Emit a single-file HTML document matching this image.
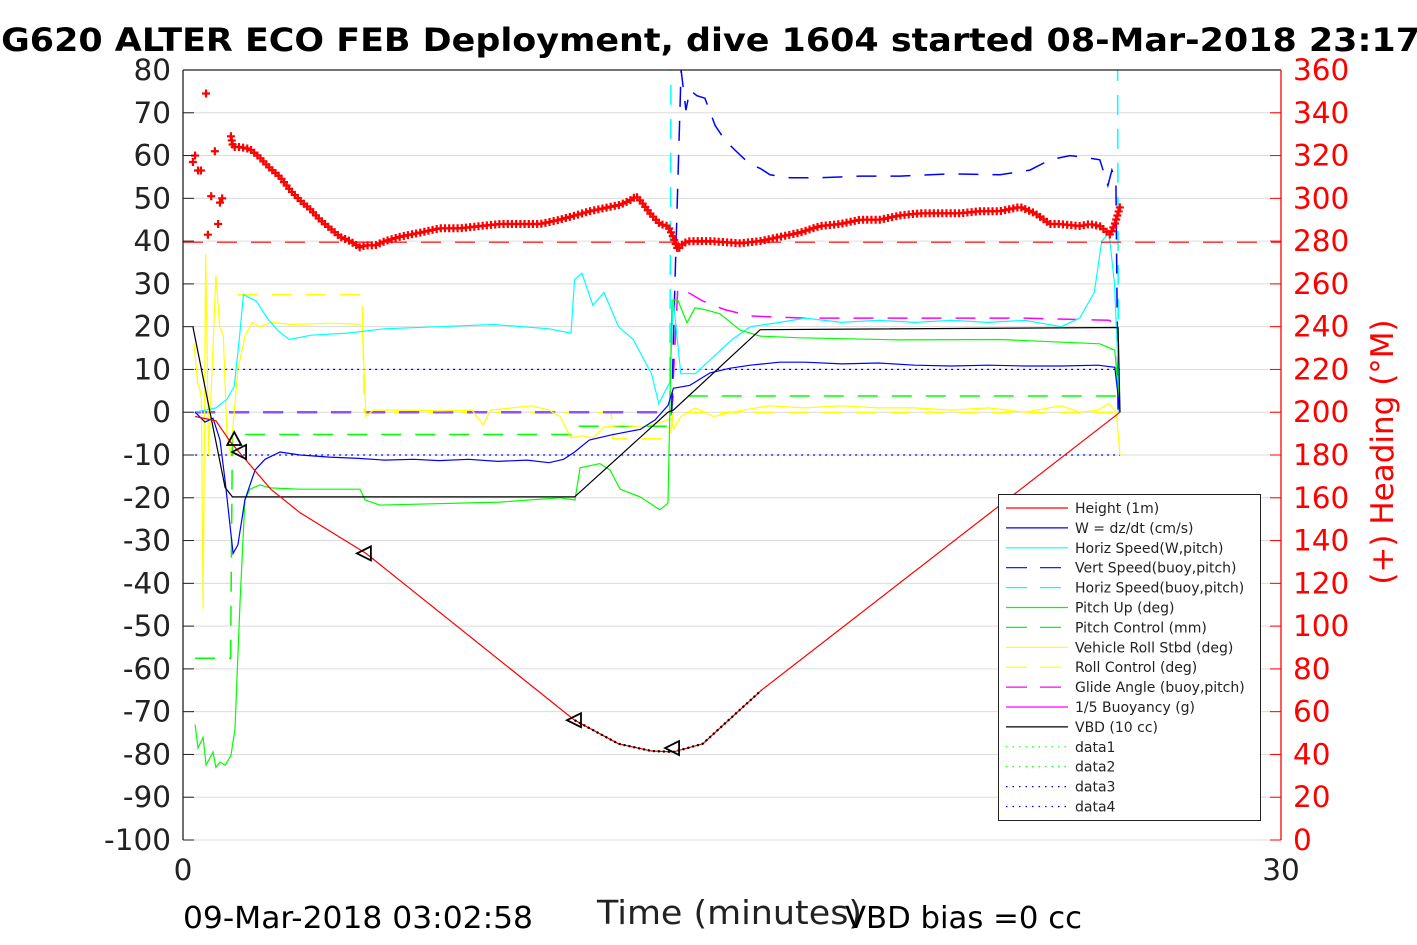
<!DOCTYPE html>
<html><head><meta charset="utf-8"><style>
html,body{margin:0;padding:0;background:#fff;}
svg{display:block;font-family:"DejaVu Sans","Liberation Sans",sans-serif;}
</style></head><body>
<svg id="chart" width="1417" height="945" viewBox="0 0 1417 945" xmlns="http://www.w3.org/2000/svg">
<text x="-24" y="51" font-size="32" font-weight="bold" fill="#000" textLength="1444" lengthAdjust="spacingAndGlyphs">SG620 ALTER ECO FEB Deployment, dive 1604 started 08-Mar-2018 23:17</text>
<g id="grid"></g>
<g id="series"></g>
<g id="axes"></g>
<text x="597" y="924" font-size="33" fill="#222" textLength="265" lengthAdjust="spacingAndGlyphs">Time (minutes)</text>
<text x="183" y="928" font-size="30" fill="#000" textLength="350" lengthAdjust="spacingAndGlyphs">09-Mar-2018 03:02:58</text>
<text x="845" y="928" font-size="30" fill="#000" textLength="237" lengthAdjust="spacingAndGlyphs">VBD bias =0 cc</text>
<text transform="translate(1393,452) rotate(-90)" font-size="31" text-anchor="middle" fill="#f00">(+) Heading (°M)</text>
<g id="legend"></g>
</svg>
<script>
// ---- data ----
const leftTicks = [80,70,60,50,40,30,20,10,0,-10,-20,-30,-40,-50,-60,-70,-80,-90,-100];
const rightTicks = [360,340,320,300,280,260,240,220,200,180,160,140,120,100,80,60,40,20,0];
const xTicks = [0,30];

const headT = [0.27,0.33,0.41,0.49,0.63,0.68,0.77,0.87,0.96,1.01,1.07,1.31,1.37,1.56,1.83,2.10,2.38,2.65,2.92,3.20,3.47,3.74,4.02,4.29,4.56,4.84,4.97,5.25,5.52,5.93,6.48,7.02,7.57,8.11,8.66,9.21,9.75,10.30,10.71,11.12,11.67,11.94,12.21,12.38,12.54,12.76,13.03,13.25,13.39,13.52,13.66,13.85,14.40,15.22,15.77,16.31,16.86,17.40,17.95,18.50,19.04,19.59,20.14,20.68,21.23,21.78,22.32,22.87,23.28,23.69,23.96,24.51,24.78,25.05,25.19,25.33,25.46,25.60];
const headV = [317,320,313,313,349,283,301,322,288,298,300,329,324,324,323,319,314,310,304,299,295,290,286,282,280,277,278,278,280,282,284,286,286,287,288,288,288,290,292,294,296,297,299,301,298,293,288,287,282,276,279,280,280,279,280,282,284,287,288,290,290,292,293,293,293,294,294,296,293,288,288,287,288,287,285,283,288,296];
const headRef = 279.5;

const hgtT = [0.33,0.9,1.3,1.6,2.4,3.2,5.0,10.7,11.9,12.8,13.4,14.2,15.8,25.6];
const hgtV = [-1,-2,-7,-10,-18,-23.5,-33,-72,-77.5,-79.2,-79.4,-77.5,-65,0];

const wT = [0.33,0.6,0.82,1.01,1.15,1.37,1.5,1.69,1.97,2.24,2.65,3.2,4,4.8,5.5,6.3,7,7.8,8.6,9.4,10.0,10.4,10.7,11.1,11.7,12.5,12.9,13.25,13.4,13.85,14.4,14.95,15.5,16.3,17,18,19,20,21,22,23,24,25,25.46,25.6];
const wV = [0,-2.3,-1.4,-6.5,-16,-33,-31,-20.5,-13.5,-11,-9.3,-10,-10.5,-10.8,-11.2,-11,-11.3,-11,-11.5,-11.2,-11.8,-11,-9.3,-6.5,-5.3,-4,-1.8,1.6,5.6,6.3,9.2,10.3,11,11.7,11.7,11.3,11.5,11,10.8,11,10.8,10.8,11,10.5,0];

const hsT = [0.33,0.9,1.2,1.4,1.55,1.65,2.0,2.3,2.6,2.9,3.5,4.5,5.5,7,8.5,10,10.6,10.7,10.9,11.2,11.5,11.9,12.3,12.8,13.0,13.3,13.4,13.6,14,14.5,15,15.5,16.3,17,18,19,20,21,22,23,24,24.5,24.9,25.1,25.3,25.45,25.6];
const hsV = [0,1,3,6,18,27.5,26,22,19,17,18,18.5,19.5,20,20.5,19.5,18.5,31,32.5,25,28,20,17,9,2,7,26,9,9,13,17,20,21,22,21,21.5,21,21.5,21,21.5,20,22,28,40,42,30,0];

const vsbT = [0.33,13.35,13.44,13.61,13.74,13.85,14.04,14.26,14.54,14.81,15.08,15.36,15.55,15.77,16.04,16.58,17.4,18.5,19.59,20.96,22.32,23.14,23.69,24.23,24.64,25.05,25.27,25.38,25.49,25.55];
const vsbV = [0,0,30,80,70.6,75.3,74,73.4,67,63.6,61.3,59,57.8,57,55.5,54.8,54.8,55.2,55.2,55.7,55.5,56.6,59,60,59.6,59,53,56.6,54,0];

const hsbT = [0.33,13.3,13.38,25.5,25.56];
const hsbV = [0,0,200,200,0];

const pitchT = [0.33,0.41,0.55,0.63,0.82,0.9,1.01,1.15,1.31,1.42,1.56,1.69,1.83,2.1,2.38,3.2,4.84,4.97,5.38,8.66,10.3,10.71,10.85,11.39,11.67,11.94,12.49,13.03,13.25,13.36,13.52,13.77,13.99,14.26,14.67,15.22,15.77,16.86,19.59,22.32,25.05,25.46,25.6];
const pitchV = [-73,-78.5,-76,-82.5,-79.4,-83,-81.8,-82.5,-80.3,-74,-44,-20.5,-18,-17,-17.7,-18,-18,-20.5,-21.7,-21,-20,-20.5,-13,-12,-13.5,-18,-19.8,-22.8,-21.2,26.2,26.2,20.9,24.4,24,23,19.2,17.8,17.4,16.9,17,16,14.5,0];

const pctlT = [0.33,1.3,1.35,10.7,10.75,13.3,13.4,25.6];
const pctlV = [-57.5,-57.5,-5.2,-5.2,-3.3,-3.3,3.8,3.8];

const rollT = [0.3,0.4,0.5,0.55,0.62,0.7,0.9,1.0,1.1,1.2,1.3,1.4,1.5,1.7,1.9,2.1,2.4,3,4,4.8,4.9,5.0,5.2,6,7,7.9,8.2,8.4,9,9.5,10,10.3,10.6,10.9,11.2,11.5,12,12.5,13,13.35,13.4,13.6,14,14.5,15,16,17,18,19,20,21,22,23,24,24.5,25,25.3,25.5,25.6];
const rollV = [16,7,4,-46,37,-10,32,20,18,-5,-10,0,10,18,21,20,21,20.5,20.8,20.6,20,-1,0.5,0.5,0.3,0.5,-3,0.5,1,1.5,0.5,-1,-6,-5.5,-6,-3.5,-3,-3.5,-2.5,-1.5,-4,-1,1,-1,0,1.5,1,1.5,1,1,0.5,1,0,1.5,0,0.5,2,0,-10];

const rctlT = [1.5,4.9,4.95,11.7,11.75,13.3,13.4,25.6];
const rctlV = [27.5,27.5,0,0,-6.2,-6.2,0,0];

const glideT = [0.33,13.35,13.52,13.8,14.2,14.8,15.5,17,20,23,25.3,25.6];
const glideV = [0,0,29,28,26,24,22.5,22,22,22,21.5,20];

const vbdT = [0.27,1.15,1.35,10.7,13.25,13.4,15.77,25.55,25.6];
const vbdV = [20,-17.6,-19.8,-19.8,0,0.5,19.3,19.8,0];

const dataLevelsT = [0.33,25.6];
const data3V = [10,10];
const data4V = [-10,-10];

const triT = [1.4,1.56,4.97,10.71,13.39];
const triV = [-6.5,-9.3,-33,-72,-78.5];

// ---- scales ----
const PX0=183, PX1=1281, PY0=70, PY1=840;
const X = t => PX0 + (t-0)/(30-0)*(PX1-PX0);
const Y = v => PY0 + (80-v)/(180)*(PY1-PY0);
const H = h => PY1 - h/360*(PY1-PY0);
const NS='http://www.w3.org/2000/svg';
function mk(tag, parent, attrs){const e=document.createElementNS(NS,tag);for(const k in attrs)e.setAttribute(k,attrs[k]);parent.appendChild(e);return e;}
const grid=document.getElementById('grid'), ser=document.getElementById('series'), axes=document.getElementById('axes'), leg=document.getElementById('legend');

const defs=mk('defs',document.getElementById('chart'),{});
const cp=mk('clipPath',defs,{id:'plotclip'});
mk('rect',cp,{x:PX0,y:PY0,width:PX1-PX0,height:PY1-PY0});
ser.setAttribute('clip-path','url(#plotclip)');

leftTicks.forEach(v=>{
  const g=mk('line',grid,{x1:PX0,x2:PX1,y1:Y(v),y2:Y(v),stroke:'#dcdcdc','stroke-width':1});
  
  
  const tk=mk('line',axes,{x1:PX0,x2:PX0+11,y1:Y(v),y2:Y(v),stroke:'#222','stroke-width':1});
  
  
  const tl=mk('text',axes,{x:PX0-12,y:Y(v)+10,'font-size':29.5,'text-anchor':'end',fill:'#222'});
  tl.textContent=v;
  
  
});
rightTicks.forEach(h=>{
  const tk=mk('line',axes,{x1:PX1-11,x2:PX1,y1:H(h),y2:H(h),stroke:'#f00','stroke-width':1});
  
  
  const tl=mk('text',axes,{x:PX1+12,y:H(h)+10,'font-size':29.5,fill:'#f00'});
  tl.textContent=h;
  
  
});
xTicks.forEach(t=>{
  const tl=mk('text',axes,{x:X(t),y:880,'font-size':29.5,'text-anchor':'middle',fill:'#222'});
  tl.textContent=t;
  
  
});
const la=mk('line',axes,{x1:PX0,x2:PX0,y1:PY0,y2:PY1,stroke:'#222','stroke-width':1.3});


const ta=mk('line',axes,{x1:PX0,x2:PX1,y1:PY0,y2:PY0,stroke:'#222','stroke-width':1.3});


const ra=mk('line',axes,{x1:PX1,x2:PX1,y1:PY0,y2:PY1,stroke:'#f00','stroke-width':1.3});



function pts(T,V,f){return T.map((t,i)=>X(t).toFixed(1)+','+f(V[i]).toFixed(1)).join(' ');}
function line(name,T,V,color,opts={}){
  const p=mk('polyline',ser,{points:pts(T,V,opts.h?H:Y),fill:'none',stroke:color,'stroke-width':opts.w||1.2});
  if(opts.dash) p.setAttribute('stroke-dasharray',opts.dash);
  if(opts.op) p.setAttribute('stroke-opacity',opts.op);
  
  
  return p;
}

line('data4-line',dataLevelsT,data4V,'#00f',{dash:'2,4'});
line('data3-line',dataLevelsT,data3V,'#00f',{dash:'2,4'});
line('roll-control-line',rctlT,rctlV,'#ff0',{dash:'20,14',w:1.5});
line('pitch-control-line',pctlT,pctlV,'#0f0',{dash:'20,14',w:1.5});
line('glide-angle-line',glideT,glideV,'#f0f',{dash:'20,14',w:1.5});
line('horiz-speed-buoy-line',hsbT,hsbV,'#0ff',{dash:'20,14',w:1.5});
line('vert-speed-buoy-line',vsbT,vsbV,'#00f',{dash:'20,14',w:1.5});
// overlap of glide angle and vertical speed at zero (appears purple)
const ovT=[],ovV=[];
glideT.forEach((t,i)=>{ if(t<=13.35){ovT.push(t);ovV.push(glideV[i]);} });
line('glide-vert-overlap-line',ovT,ovV,'#9050ff',{dash:'20,14',w:2.5});
line('vehicle-roll-line',rollT,rollV,'#ff0');
line('horiz-speed-line',hsT,hsV,'#0ff');
line('pitch-up-line',pitchT,pitchV,'#0f0');
line('w-line',wT,wV,'#00f');
line('vbd-line',vbdT,vbdV,'#000');
line('height-line',hgtT,hgtV,'#f00');
const apT=[],apV=[];
hgtT.forEach((t,i)=>{ if(t>=10.7 && t<=15.8){apT.push(t);apV.push(hgtV[i]);} });
line('apogee-dotted-line',apT,apV,'#000',{dash:'2,3',w:2.2});
const hr=mk('line',ser,{x1:PX0,x2:PX1,y1:H(headRef),y2:H(headRef),stroke:'#f00','stroke-width':1.2,'stroke-dasharray':'20,14'});



function plus(x,y){
  const g=mk('path',ser,{d:`M${x-4},${y}H${x+4}M${x},${y-4}V${y+4}`,stroke:'#f00','stroke-width':2.2,fill:'none'});
  
  
}
headT.forEach((t,i)=>{
  if(i<11) plus(X(t),H(headV[i]));
});
const dense=mk('polyline',ser,{points:pts(headT.slice(11),headV.slice(11),H),fill:'none',stroke:'none'});


const L=dense.getTotalLength();
for(let s=0;s<=L;s+=4.2){const p=dense.getPointAtLength(s);plus(p.x,p.y);}

triT.forEach((t,i)=>{
  const x=X(t),y=Y(triV[i]);
  const d = (i===0) ? `M${x},${y-8}L${x+7},${y+5}L${x-7},${y+5}Z` : `M${x-8},${y}L${x+6},${y-7}L${x+6},${y+7}Z`;
  const tr=mk('path',ser,{d:d,fill:'none',stroke:'#000','stroke-width':1.8});
  
  
});

const LX=998,LY=494,LW=262,LH=326;
const lb=mk('rect',leg,{x:LX+0.5,y:LY+0.5,width:LW,height:LH,fill:'#fff',stroke:'#222','stroke-width':1});


const legendNames=['Height (1m)','W = dz/dt (cm/s)','Horiz Speed(W,pitch)','Vert Speed(buoy,pitch)','Horiz Speed(buoy,pitch)','Pitch Up (deg)','Pitch Control (mm)','Vehicle Roll Stbd (deg)','Roll Control (deg)','Glide Angle (buoy,pitch)','1/5 Buoyancy (g)','VBD (10 cc)','data1','data2','data3','data4'];
const legendColors=['#f00','#00f','#0ff','#00f','#0ff','#0f0','#0f0','#ff0','#ff0','#f0f','#f0f','#000','#0f0','#0f0','#00f','#00f'];
const legendStyles=['s','s','s','d','d','s','d','s','d','d','s','s','o','o','o','o'];
legendNames.forEach((n,i)=>{
  const y=LY+14+i*19.9;
  const st=legendStyles[i];
  const l=mk('line',leg,{x1:LX+8,x2:LX+70,y1:y,y2:y,stroke:legendColors[i],'stroke-width':1.2});
  if(st==='d') l.setAttribute('stroke-dasharray','21,13');
  if(st==='o') l.setAttribute('stroke-dasharray','1.5,5');
  
  
  const tx=mk('text',leg,{x:LX+77,y:y+5,'font-size':14,fill:'#222'});
  tx.textContent=n;
  
  
});
</script>
</body></html>
